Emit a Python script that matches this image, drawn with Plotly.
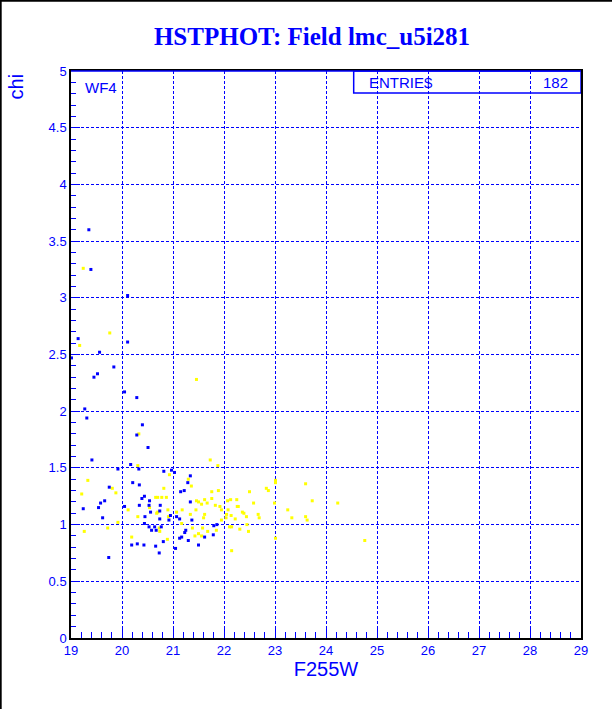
import plotly.graph_objects as go

# ---- data ----
blue_x = [19.35,19.39,20.11,19.14,20.11,19.56,19.01,19.84,19.52,19.45,20.05,20.29,19.27,19.31,20.40,20.29,20.51,19.41,20.17,20.33,19.92,20.97,21.03,20.82,21.34,20.21,21.29,20.34,19.75,21.22,21.15,20.44,20.39,19.66,19.58,20.54,20.53,21.34,20.75,20.05,20.34,19.54,19.24,20.74,20.56,20.45,19.62,20.95,21.07,20.74,21.13,21.37,20.92,20.44,21.86,21.80,20.53,20.64,20.77,20.58,20.67,21.25,21.23,21.79,21.17,21.13,21.62,20.81,21.30,20.19,20.30,20.43,21.50,20.66,21.05,20.73,19.74]
blue_y = [3.60,3.25,3.02,2.64,2.61,2.52,2.47,2.39,2.33,2.30,2.17,2.12,2.02,1.94,1.88,1.79,1.68,1.57,1.53,1.49,1.49,1.48,1.46,1.47,1.43,1.37,1.37,1.35,1.33,1.30,1.29,1.25,1.23,1.21,1.19,1.21,1.17,1.20,1.17,1.16,1.17,1.15,1.14,1.12,1.11,1.07,1.06,1.08,1.07,1.05,1.05,1.04,1.04,1.01,1.00,0.99,0.98,0.98,0.98,0.95,0.95,0.95,0.93,0.91,0.89,0.88,0.89,0.85,0.86,0.82,0.83,0.82,0.82,0.81,0.79,0.75,0.71]

yellow_x = [19.24,19.76,19.17,21.46,20.33,20.31,21.73,21.88,20.93,19.33,21.36,21.30,20.82,19.81,19.88,19.21,21.76,21.89,22.50,20.66,20.70,20.78,20.87,21.46,21.50,21.56,21.62,21.67,21.76,22.07,22.13,22.25,21.83,21.92,22.26,22.28,20.12,20.54,20.90,20.68,20.70,21.07,21.18,21.45,21.34,21.62,21.60,21.95,22.08,22.36,22.39,22.44,22.67,22.69,20.31,20.91,21.95,22.04,22.22,22.05,22.14,19.92,21.17,22.45,20.73,20.74,19.72,21.38,21.58,21.85,22.11,22.15,22.31,19.26,22.48,21.68,21.50,21.43,21.56,20.19,20.89,22.15,23.01,23.01,23.60,22.83,22.87,22.58,22.99,23.73,24.23,23.25,23.33,23.60,23.63,23.01,24.76]
yellow_y = [3.26,2.69,2.58,2.28,1.80,1.52,1.57,1.52,1.44,1.39,1.34,1.40,1.32,1.32,1.28,1.27,1.29,1.30,1.29,1.24,1.24,1.24,1.24,1.21,1.20,1.18,1.22,1.19,1.23,1.21,1.22,1.22,1.17,1.16,1.16,1.16,1.13,1.15,1.13,1.10,1.11,1.11,1.13,1.13,1.09,1.09,1.06,1.13,1.13,1.11,1.10,1.07,1.09,1.06,1.07,1.07,1.04,1.06,1.05,1.09,1.08,1.02,1.01,1.00,0.97,0.94,0.97,0.97,0.97,0.95,0.98,0.98,0.96,0.94,0.94,0.94,0.92,0.90,0.90,0.89,0.87,0.77,1.39,1.37,1.36,1.32,1.30,1.19,1.19,1.21,1.19,1.13,1.06,1.07,1.04,0.88,0.86]

x_range = [19, 29]
y_range = [0, 5]
title_text = "HSTPHOT: Field lmc_u5i281"
x_title = "F255W"
y_title = "chi"
panel_label = "WF4"
stat_label = "ENTRIE$"
stat_value = "182"

BLUE = "#0000FF"
YEL = "#FFFF00"
TXT = "Liberation Sans, Arial, sans-serif"

fig = go.Figure()
fig.add_trace(go.Scatter(x=yellow_x, y=yellow_y, mode="markers",
                         marker=dict(symbol="square", size=3, color=YEL, line=dict(width=0)),
                         showlegend=False, hoverinfo="skip"))
fig.add_trace(go.Scatter(x=blue_x, y=blue_y, mode="markers",
                         marker=dict(symbol="square", size=3, color=BLUE, line=dict(width=0)),
                         showlegend=False, hoverinfo="skip"))

axis_common = dict(showline=True, linecolor="black", linewidth=1.5, mirror=True,
                   showgrid=True, gridcolor=BLUE, gridwidth=1, griddash="3px,2px",
                   zeroline=False, ticks="inside", tickcolor=BLUE,
                   tickfont=dict(family=TXT, size=13, color=BLUE))

fig.update_xaxes(range=x_range, dtick=1, tick0=19, ticklen=10,
                 minor=dict(dtick=0.2, ticks="inside", ticklen=6, tickcolor=BLUE, showgrid=False),
                 title=dict(text=x_title, font=dict(family=TXT, size=20, color=BLUE), standoff=4),
                 **axis_common)
fig.update_yaxes(range=y_range, dtick=0.5, tick0=0, ticklen=9,
                 minor=dict(dtick=0.1, ticks="inside", ticklen=5, tickcolor=BLUE, showgrid=False),
                 **axis_common)

fig.update_layout(
    width=612, height=709,
    margin=dict(l=71, r=31, t=71, b=71),
    paper_bgcolor="white", plot_bgcolor="white",
    title=dict(text="<b>" + title_text + "</b>", x=312/612, xanchor="center",
               y=1 - 36/709, yanchor="middle", xref="container", yref="container",
               font=dict(family="Liberation Serif, Times New Roman, serif", size=25, color=BLUE)),
)

# y-axis title at top-left, rotated
fig.add_annotation(text=y_title, xref="paper", yref="paper", x=-0.107, y=1.0,
                   xanchor="center", yanchor="top", textangle=-90, showarrow=False,
                   font=dict(family=TXT, size=20, color=BLUE))
# panel label
fig.add_annotation(text=panel_label, xref="paper", yref="paper", x=(83-71.3)/510, y=1-(87.5-71.3)/566.7,
                   xanchor="left", yanchor="middle", showarrow=False,
                   font=dict(family=TXT, size=15, color=BLUE))
# stats box
fig.add_shape(type="rect", xref="x", yref="y", x0=24.543, x1=29, y0=4.806, y1=5,
              line=dict(color=BLUE, width=1.5), fillcolor="rgba(0,0,0,0)")
fig.add_annotation(text=stat_label, xref="paper", yref="paper", x=(367-71.3)/510, y=1-(82.5-71.3)/566.7,
                   xanchor="left", yanchor="middle", showarrow=False,
                   font=dict(family=TXT, size=15, color=BLUE))
fig.add_annotation(text=stat_value, xref="paper", yref="paper", x=(570-71.3)/510, y=1-(82.5-71.3)/566.7,
                   xanchor="right", yanchor="middle", showarrow=False,
                   font=dict(family=TXT, size=15, color=BLUE))
# top frame line in blue
fig.add_shape(type="line", xref="paper", yref="paper", x0=0, x1=1, y0=1, y1=1,
              line=dict(color=BLUE, width=1.5))
# page border (left and top)
fig.add_shape(type="line", xref="paper", yref="paper", x0=-70.3/510, x1=-70.3/510,
              y0=-71/566.7 - 0.01, y1=1 + 71.3/566.7 + 0.01, line=dict(color="black", width=2))
fig.add_shape(type="line", xref="paper", yref="paper", x0=-71.3/510, x1=1 + 31/510,
              y0=1 + 70.3/566.7, y1=1 + 70.3/566.7, line=dict(color="black", width=2))

fig.write_html("out.html", config={"displayModeBar": False},
               post_script="document.body.style.margin='0';")
